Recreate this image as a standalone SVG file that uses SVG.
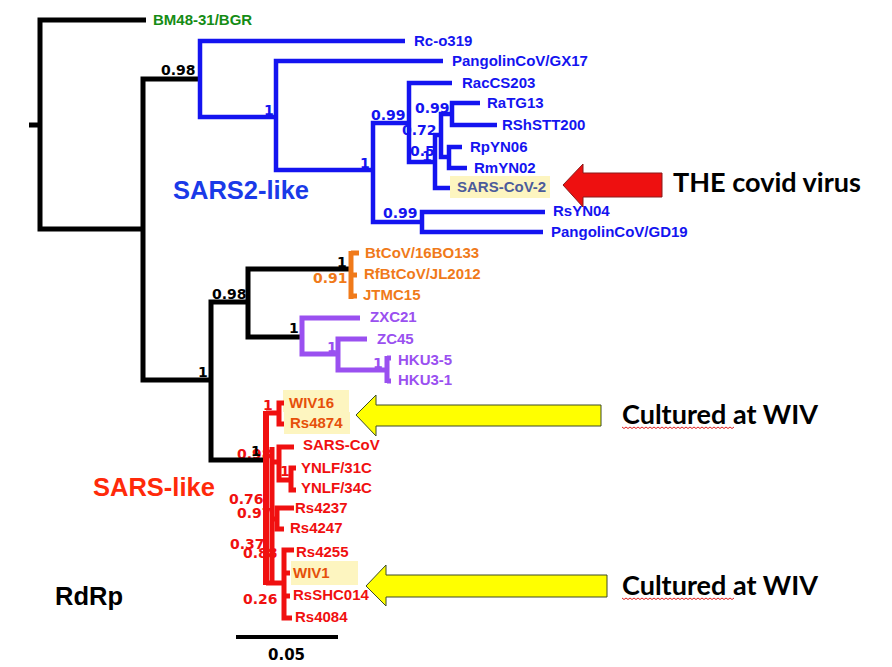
<svg xmlns="http://www.w3.org/2000/svg" width="892" height="667" viewBox="0 0 892 667">
<style>
.tip{font-family:"Liberation Sans",Arial,sans-serif;font-size:15px;font-weight:bold}
.sup{font-family:"DejaVu Sans",sans-serif;font-size:14px;font-weight:bold}
.big{font-family:"Liberation Sans",Arial,sans-serif;font-size:25.5px;font-weight:bold}
.call{font-family:Lato,"Open Sans",sans-serif;font-size:27px;font-weight:bold;fill:#000}
.g{fill:#158c15}.b{fill:#1414f0}.o{fill:#f07a1a}.p{fill:#9a50f0}.r{fill:#f01010}.k{fill:#000}.hl{fill:#e6500a}.sv{fill:#4b5b9b}
.hi{fill:#fdf5c0}
.ln{fill:none;stroke-linejoin:miter;stroke-linecap:butt}
.lk{stroke:#000;stroke-width:5}.lb{stroke:#1414f0;stroke-width:4.5}.lo{stroke:#f07a1a;stroke-width:5}.lp{stroke:#9a50f0;stroke-width:5}.lr{stroke:#f01010;stroke-width:5}
.wave{fill:none;stroke:#e02020;stroke-width:1}
</style>

<g id="highlights">
<rect class="hi" x="450" y="176" width="100" height="22"/>
<rect class="hi" x="283" y="390" width="66" height="22"/>
<rect class="hi" x="284" y="412" width="66" height="22"/>
<rect class="hi" x="291" y="561" width="67" height="24"/>
</g>

<g id="support-values" class="sup">
<text class="k" x="161" y="75">0.98</text>
<text class="b" x="264" y="115">1</text>
<text class="b" x="360" y="168">1</text>
<text class="b" x="371" y="120">0.99</text>
<text class="b" x="415" y="113">0.99</text>
<text class="b" x="402" y="135">0.72</text>
<text class="b" x="410" y="156">0.5</text>
<text class="b" x="422" y="161">1</text>
<text class="b" x="383" y="218">0.99</text>
<text class="k" x="337" y="267">1</text>
<text class="o" x="313" y="283">0.91</text>
<text class="k" x="212" y="299">0.98</text>
<text class="k" x="289" y="333">1</text>
<text class="p" x="327" y="352">1</text>
<text class="p" x="373" y="368">1</text>
<text class="k" x="198" y="377">1</text>
<text class="r" x="263" y="410">1</text>
<text class="r" x="237" y="459">0.98</text>
<text class="k" x="251" y="456">1</text>
<text class="r" x="280" y="476">1</text>
<text class="r" x="229" y="504">0.76</text>
<text class="r" x="237" y="518">0.97</text>
<text class="r" x="230" y="549">0.37</text>
<text class="r" x="243" y="558">0.88</text>
<text class="r" x="243" y="604">0.26</text>
</g>

<g id="connectors" class="ln">
<path class="lk" d="M29,125 H40"/>
<path class="lk" d="M146,20 H40 V229 H143"/>
<path class="lk" d="M202,79 H143 V380 H211"/>
<path class="lk" d="M350,269 H248 V337 H302"/>
<path class="lk" d="M248,302 H211 V460 H264"/>
<path class="lb" d="M405,41 H200 V117 H276"/>
<path class="lb" d="M443,61 H276 V170 H373"/>
<path class="lb" d="M409,123 H373 V222 H422"/>
<path class="lb" d="M545,212 H422 V232 H543"/>
<path class="lb" d="M452,83 H409 V162 H435"/>
<path class="lb" d="M441,135 H435 V188 H450"/>
<path class="lb" d="M452,114 H441 V157 H449"/>
<path class="lb" d="M480,103 H452 V125 H497"/>
<path class="lb" d="M462,147 H449 V168 H467"/>
<path class="lo" d="M351,251 V299"/>
<path class="lo" d="M351,253 H359 M351,275 H357 M351,296 H357"/>
<path class="lp" d="M360,318 H302 V354 H338"/>
<path class="lp" d="M367,339 H338 V370 H387"/>
<path class="lp" d="M387,356 V383 M387,358 H391 M387,381 H391"/>
<path class="lr" d="M266,411 V585" style="stroke-width:6"/>
<path class="lr" d="M266,413 H279"/>
<path class="lr" d="M284,403 H279 V424 H284"/>
<path class="lr" d="M272,447 V583"/>
<path class="lr" d="M272,462 H279"/>
<path class="lr" d="M294,447 H279 V480 H291"/>
<path class="lr" d="M296,468 H291 V490 H296"/>
<path class="lr" d="M272,519 H277"/>
<path class="lr" d="M294,508 H277 V529 H284"/>
<path class="lr" d="M266,583 H284"/>
<path class="lr" d="M294,550 H284 V618 H292"/>
<path class="lr" d="M284,573 H290 M284,596 H290"/>
<path class="lk" d="M236,637 H338" style="stroke-width:4"/>
</g>

<g id="tips" class="tip">
<g id="n-BM48"><text class="g" x="153" y="25">BM48-31/BGR</text></g>
<g id="n-Rco319"><text class="b" x="414" y="46">Rc-o319</text></g>
<g id="n-GX17"><text class="b" x="452" y="66">PangolinCoV/GX17</text></g>
<g id="n-RacCS203"><text class="b" x="462" y="88">RacCS203</text></g>
<g id="n-RaTG13"><text class="b" x="487" y="108">RaTG13</text></g>
<g id="n-RShSTT200"><text class="b" x="502" y="130">RShSTT200</text></g>
<g id="n-RpYN06"><text class="b" x="470" y="152">RpYN06</text></g>
<g id="n-RmYN02"><text class="b" x="474" y="173">RmYN02</text></g>
<g id="n-SARSCoV2"><text class="sv" x="457" y="192">SARS-CoV-2</text></g>
<g id="n-RsYN04"><text class="b" x="553" y="216">RsYN04</text></g>
<g id="n-GD19"><text class="b" x="551" y="237">PangolinCoV/GD19</text></g>
<g id="n-BtCoV"><text class="o" x="365" y="258">BtCoV/16BO133</text></g>
<g id="n-RfBtCoV"><text class="o" x="364" y="279">RfBtCoV/JL2012</text></g>
<g id="n-JTMC15"><text class="o" x="363" y="300">JTMC15</text></g>
<g id="n-ZXC21"><text class="p" x="370" y="322">ZXC21</text></g>
<g id="n-ZC45"><text class="p" x="377" y="344">ZC45</text></g>
<g id="n-HKU35"><text class="p" x="398" y="365">HKU3-5</text></g>
<g id="n-HKU31"><text class="p" x="398" y="385">HKU3-1</text></g>
<g id="n-WIV16"><text class="hl" x="289" y="408">WIV16</text></g>
<g id="n-Rs4874"><text class="hl" x="290" y="428">Rs4874</text></g>
<g id="n-SARSCoV"><text class="r" x="303" y="450">SARS-CoV</text></g>
<g id="n-YNLF31C"><text class="r" x="301" y="473">YNLF/31C</text></g>
<g id="n-YNLF34C"><text class="r" x="301" y="493">YNLF/34C</text></g>
<g id="n-Rs4237"><text class="r" x="295" y="513">Rs4237</text></g>
<g id="n-Rs4247"><text class="r" x="290" y="533">Rs4247</text></g>
<g id="n-Rs4255"><text class="r" x="296" y="557">Rs4255</text></g>
<g id="n-WIV1"><text class="hl" x="293" y="578">WIV1</text></g>
<g id="n-RsSHC014"><text class="r" x="293" y="600">RsSHC014</text></g>
<g id="n-Rs4084"><text class="r" x="295" y="622">Rs4084</text></g>
</g>

<g id="group-labels">
<text class="big" x="173" y="199" fill="#1a3ae8">SARS2-like</text>
<text class="big" x="93" y="496" fill="#ff2a0a">SARS-like</text>
<text class="big" x="55" y="605" fill="#000">RdRp</text>
<text x="268" y="660" style="font-family:'DejaVu Sans',sans-serif;font-size:15px;font-weight:bold" fill="#000">0.05</text>
</g>

<g id="callout-covid">
<polygon points="563,185 583,164 583,173 662,173 662,197 583,197 583,207" fill="#ee1010" stroke="#8a1a1a" stroke-width="1"/>
<text class="call" x="673" y="192" textLength="188" lengthAdjust="spacingAndGlyphs">THE covid virus</text>
</g>
<g id="callout-wiv16">
<polygon points="356,415 376,395 376,405 601,405 601,426 376,426 376,436" fill="#ffff00" stroke="#3c4a28" stroke-width="1"/>
<text class="call" x="622" y="424" textLength="196" lengthAdjust="spacingAndGlyphs">Cultured at WIV</text>
<path class="wave" d="M622,427 l2,1.5 2,-1.5 2,1.5 2,-1.5 2,1.5 2,-1.5 2,1.5 2,-1.5 2,1.5 2,-1.5 2,1.5 2,-1.5 2,1.5 2,-1.5 2,1.5 2,-1.5 2,1.5 2,-1.5 2,1.5 2,-1.5 2,1.5 2,-1.5 2,1.5 2,-1.5 2,1.5 2,-1.5 2,1.5 2,-1.5 2,1.5 2,-1.5 2,1.5 2,-1.5 2,1.5 2,-1.5 2,1.5 2,-1.5 2,1.5 2,-1.5 2,1.5 2,-1.5 2,1.5 2,-1.5 2,1.5 2,-1.5 2,1.5 2,-1.5 2,1.5 2,-1.5 2,1.5 2,-1.5 2,1.5 2,-1.5 2,1.5 2,-1.5 2,1.5 2,-1.5"/>
</g>
<g id="callout-wiv1">
<polygon points="366,586 386,565 386,575 607,575 607,597 386,597 386,606" fill="#ffff00" stroke="#3c4a28" stroke-width="1"/>
<text class="call" x="622" y="595" textLength="196" lengthAdjust="spacingAndGlyphs">Cultured at WIV</text>
<path class="wave" d="M622,598 l2,1.5 2,-1.5 2,1.5 2,-1.5 2,1.5 2,-1.5 2,1.5 2,-1.5 2,1.5 2,-1.5 2,1.5 2,-1.5 2,1.5 2,-1.5 2,1.5 2,-1.5 2,1.5 2,-1.5 2,1.5 2,-1.5 2,1.5 2,-1.5 2,1.5 2,-1.5 2,1.5 2,-1.5 2,1.5 2,-1.5 2,1.5 2,-1.5 2,1.5 2,-1.5 2,1.5 2,-1.5 2,1.5 2,-1.5 2,1.5 2,-1.5 2,1.5 2,-1.5 2,1.5 2,-1.5 2,1.5 2,-1.5 2,1.5 2,-1.5 2,1.5 2,-1.5 2,1.5 2,-1.5 2,1.5 2,-1.5 2,1.5 2,-1.5 2,1.5 2,-1.5"/>
</g>
</svg>
